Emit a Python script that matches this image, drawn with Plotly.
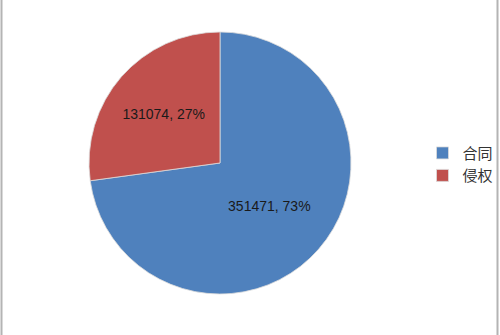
import plotly.graph_objects as go

categories = ["合同", "侵权"]
values = [351471, 131074]
colors = ["#4F81BD", "#C0504D"]

fig = go.Figure(go.Pie(
    labels=categories,
    values=values,
    sort=False,
    direction="clockwise",
    rotation=0,
    marker=dict(colors=colors, line=dict(color="#dcdcdc", width=0.8)),
    texttemplate="%{value:d}, %{percent:.0%}",
    textposition="inside",
    insidetextorientation="horizontal",
    textfont=dict(family="Liberation Sans, Arial", size=14, color="#1a1a1a"),
    domain=dict(x=[0.178, 0.702], y=[0.1224, 0.9045]),
    hoverinfo="label+value+percent",
))

fig.update_layout(
    width=500, height=335,
    margin=dict(l=0, r=0, t=0, b=0),
    paper_bgcolor="white",
    plot_bgcolor="white",
    showlegend=True,
    legend=dict(
        x=0.845, y=0.51, xanchor="left", yanchor="middle",
        font=dict(family="Noto Sans CJK SC", size=15, color="#333333"),
        itemwidth=30, tracegroupgap=0,
        bgcolor="rgba(0,0,0,0)",
    ),
    shapes=[
        dict(type="line", xref="paper", yref="paper", x0=0.003, x1=0.003, y0=0, y1=1,
             line=dict(color="#b4b4b4", width=2)),
        dict(type="line", xref="paper", yref="paper", x0=0.995, x1=0.995, y0=0, y1=1,
             line=dict(color="#b4b4b4", width=2)),
    ],
)

fig.write_html("out.html")
